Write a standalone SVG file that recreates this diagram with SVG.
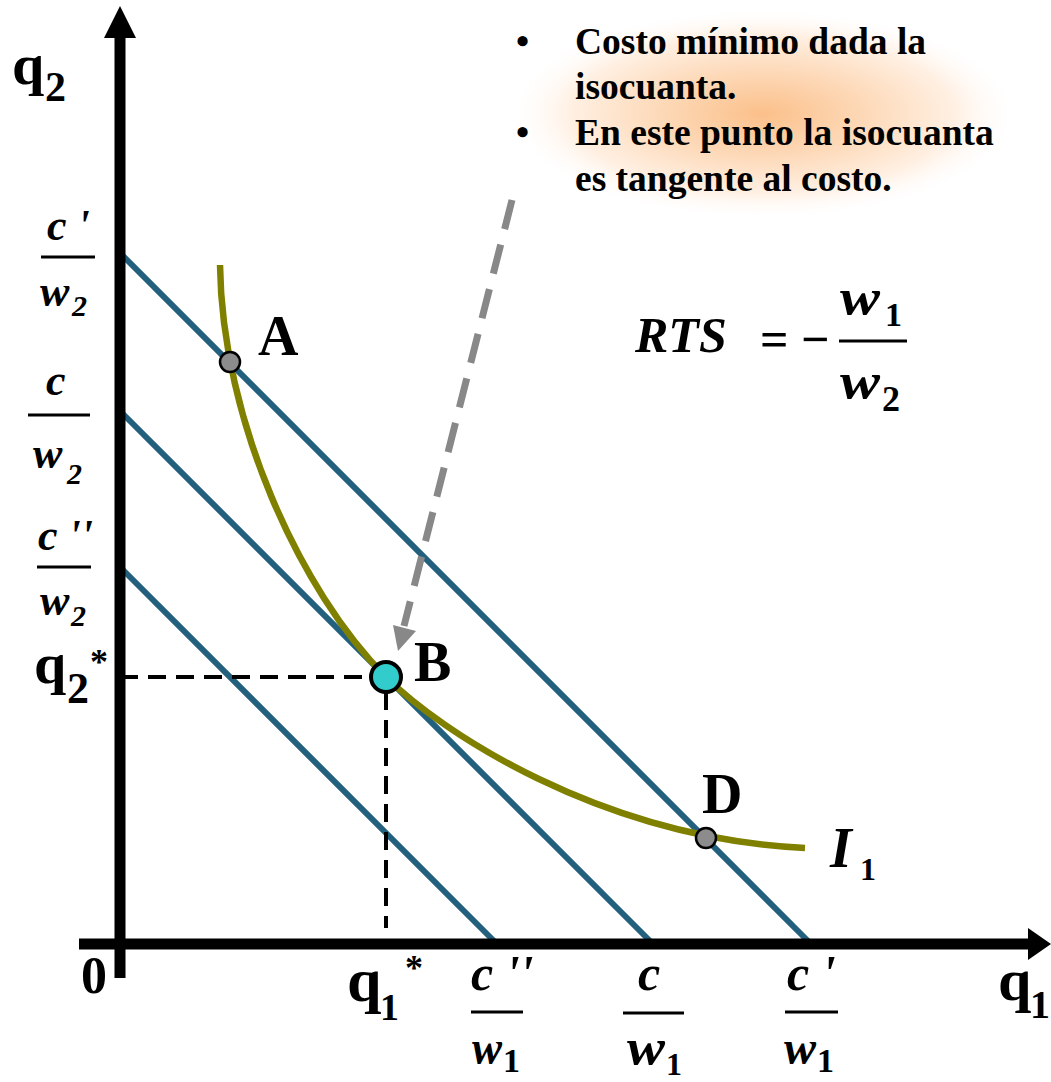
<svg xmlns="http://www.w3.org/2000/svg" width="1051" height="1082" viewBox="0 0 1051 1082">
<style>
.t{font-family:"Liberation Serif","Times New Roman",serif;font-weight:bold;fill:#000}
.i{font-style:italic}
.budget{stroke:#23607e;stroke-width:6;fill:none}
.frac{stroke:#000;stroke-width:3}
.dash{stroke:#000;stroke-width:4;stroke-dasharray:18 10;fill:none}
.pt{fill:#8c8c8c;stroke:#000;stroke-width:2.5}
</style>
<defs>
<radialGradient id="glow" cx="0.5" cy="0.48" r="0.5">
<stop offset="0" stop-color="#fbc08a"/>
<stop offset="0.4" stop-color="#fdd9b8"/>
<stop offset="0.75" stop-color="#fff0e3"/>
<stop offset="1" stop-color="#ffffff" stop-opacity="0"/>
</radialGradient>
</defs>
<rect width="1051" height="1082" fill="#fff"/>
<g id="callout">
<rect x="505" y="12" width="515" height="212" fill="url(#glow)"/>
<text class="t" font-size="37.5"><tspan x="516" y="54">•</tspan><tspan x="575" y="54">Costo mínimo dada la</tspan><tspan x="575" y="99">isocuanta.</tspan><tspan x="516" y="145">•</tspan><tspan x="575" y="145">En este punto la isocuanta</tspan><tspan x="575" y="191">es tangente al costo.</tspan></text>
</g>
<g id="budget-lines">
<line class="budget" x1="120" y1="253" x2="808" y2="941"/>
<line class="budget" x1="120" y1="411" x2="650" y2="941"/>
<line class="budget" x1="120" y1="567" x2="494" y2="941"/>
</g>
<g id="isoquant">
<path d="M220,265 C222,420 300,591 386,677 C440,731 600,838 805,848" fill="none" stroke="#808000" stroke-width="6.5"/>
<text class="t i" x="830" y="867" font-size="56">I</text>
<text class="t" x="860" y="880" font-size="32">1</text>
</g>
<g id="connectors">
<line class="dash" x1="120" y1="677" x2="386" y2="677"/>
<line class="dash" x1="386" y1="692" x2="386" y2="928"/>
<line x1="512" y1="200" x2="404" y2="626" stroke="#888" stroke-width="7" stroke-dasharray="30 16"/>
<polygon points="393,625 416,631 398,651" fill="#888"/>
</g>
<g id="axes">
<line x1="120" y1="978" x2="120" y2="35" stroke="#000" stroke-width="11"/>
<polygon points="120,6 104,38 136,38" fill="#000"/>
<line x1="79" y1="944" x2="1030" y2="944" stroke="#000" stroke-width="11"/>
<polygon points="1051,944 1028,928 1028,960" fill="#000"/>
<text class="t" x="12" y="84" font-size="58">q</text>
<text class="t" x="45" y="101" font-size="42">2</text>
<text class="t" x="998" y="1000" font-size="60">q</text>
<text class="t" x="1030" y="1018" font-size="40">1</text>
<text class="t" x="81" y="993" font-size="52">0</text>
</g>
<g id="point-A">
<circle class="pt" cx="230" cy="362" r="10"/>
<text class="t" x="258" y="355" font-size="56">A</text>
</g>
<g id="point-B">
<circle cx="386" cy="677" r="15" fill="#33cccc" stroke="#000" stroke-width="4"/>
<text class="t" x="414" y="681" font-size="56">B</text>
</g>
<g id="point-D">
<circle class="pt" cx="706" cy="838" r="10"/>
<text class="t" x="702" y="813" font-size="56">D</text>
</g>
<g id="q2star">
<text class="t" x="34" y="683" font-size="58">q</text>
<text class="t" x="67" y="703" font-size="44">2</text>
<text class="t" x="90" y="674" font-size="36">*</text>
</g>
<g id="q1star">
<text class="t" x="347" y="1001" font-size="62">q</text>
<text class="t" x="380" y="1020" font-size="38">1</text>
<text class="t" x="405" y="980" font-size="36">*</text>
</g>
<g id="label-c1-w2">
<text class="t i" x="47" y="240" font-size="44">c '</text>
<line class="frac" x1="41" y1="257" x2="95" y2="257"/>
<text class="t i" x="40" y="306" font-size="44">w</text>
<text class="t i" x="72" y="316" font-size="30">2</text>
</g>
<g id="label-c-w2">
<text class="t i" x="46" y="395" font-size="44">c</text>
<line class="frac" x1="28" y1="415" x2="90" y2="415"/>
<text class="t i" x="33" y="468" font-size="44">w</text>
<text class="t i" x="67" y="484" font-size="30">2</text>
</g>
<g id="label-c2-w2">
<text class="t i" x="38" y="550" font-size="44">c ''</text>
<line class="frac" x1="37" y1="567" x2="91" y2="567"/>
<text class="t i" x="40" y="615" font-size="44">w</text>
<text class="t i" x="71" y="626" font-size="30">2</text>
</g>
<g id="label-c2-w1">
<text class="t i" x="471" y="990" font-size="50">c ''</text>
<line class="frac" x1="471" y1="1012" x2="523" y2="1012"/>
<text class="t i" x="472" y="1064" font-size="48" textLength="30" lengthAdjust="spacingAndGlyphs">w</text>
<text class="t" x="503" y="1072" font-size="34">1</text>
</g>
<g id="label-c-w1">
<text class="t i" x="638" y="990" font-size="50">c</text>
<line class="frac" x1="623" y1="1013" x2="684" y2="1013"/>
<text class="t i" x="627" y="1064" font-size="50" textLength="38" lengthAdjust="spacingAndGlyphs">w</text>
<text class="t" x="666" y="1075" font-size="32">1</text>
</g>
<g id="label-c1-w1">
<text class="t i" x="787" y="990" font-size="50">c '</text>
<line class="frac" x1="785" y1="1012" x2="838" y2="1012"/>
<text class="t i" x="784" y="1064" font-size="48" textLength="32" lengthAdjust="spacingAndGlyphs">w</text>
<text class="t" x="817" y="1072" font-size="34">1</text>
</g>
<g id="rts">
<text class="t i" x="635" y="352" font-size="50">RTS</text>
<text class="t" x="760" y="356" font-size="50">=</text>
<text class="t" x="801" y="356" font-size="50">−</text>
<line class="frac" x1="839" y1="341" x2="907" y2="341"/>
<text class="t i" x="840" y="314" font-size="50" textLength="40" lengthAdjust="spacingAndGlyphs">w</text>
<text class="t" x="885" y="326" font-size="34">1</text>
<text class="t i" x="840" y="398" font-size="50" textLength="40" lengthAdjust="spacingAndGlyphs">w</text>
<text class="t" x="882" y="411" font-size="36">2</text>
</g>
</svg>
